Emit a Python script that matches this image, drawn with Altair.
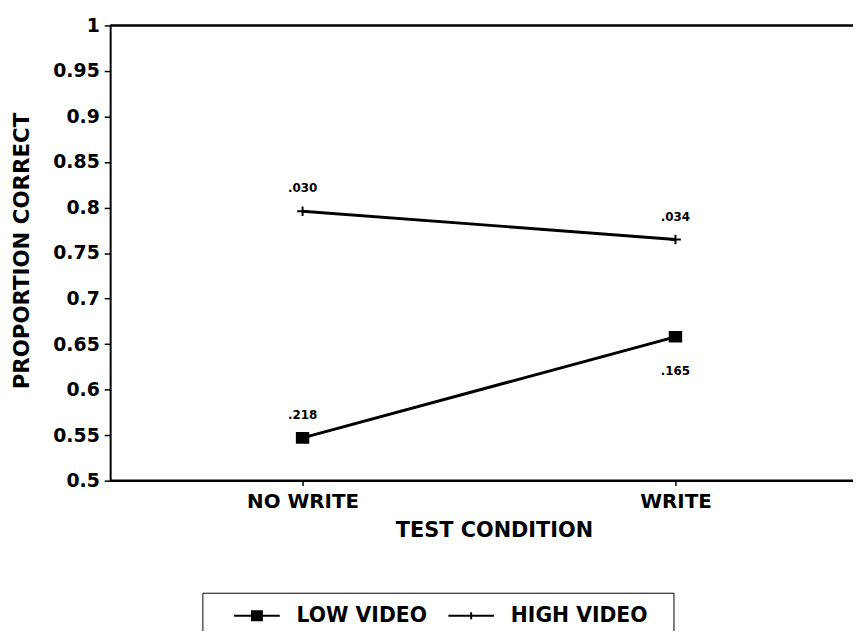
import altair as alt
import pandas as pd

# ---- data ----
conditions = ["NO WRITE", "WRITE"]
series_names = ["LOW VIDEO", "HIGH VIDEO"]
low_video = [0.547, 0.658]
high_video = [0.796, 0.765]
low_labels = [".218", ".165"]
high_labels = [".030", ".034"]
y_ticks = [0.5, 0.55, 0.6, 0.65, 0.7, 0.75, 0.8, 0.85, 0.9, 0.95, 1.0]

rows = []
for i, c in enumerate(conditions):
    rows.append({"condition": c, "series": "LOW VIDEO", "value": low_video[i], "label": low_labels[i]})
    rows.append({"condition": c, "series": "HIGH VIDEO", "value": high_video[i], "label": high_labels[i]})
df = pd.DataFrame(rows)
frame_df = pd.DataFrame({"value": [min(y_ticks), max(y_ticks)]})

FONT = "DejaVu Sans"

SQUARE = "M-1,-0.85H1V0.85H-1Z"
CROSS = "M-0.9,0H0.9M0,-0.8V0.8"
# legend symbols drawn with strokes only: a line with a solid square / a small vertical tick
LEG_LOW = ("M-2.3,0H2.3"
           "M-0.6,-0.45H0.6M-0.6,-0.3H0.6M-0.6,-0.15H0.6M-0.6,0.15H0.6M-0.6,0.3H0.6M-0.6,0.45H0.6")
LEG_HIGH = "M-2.3,0H2.3M0,-0.35V0.35"

x_enc = alt.X(
    "condition:N",
    sort=conditions,
    scale=alt.Scale(type="point", domain=conditions, range=[194, 570], padding=0),
    axis=alt.Axis(
        title="TEST CONDITION",
        labelAngle=0,
        labelFont=FONT, labelFontSize=20, labelFontWeight="bold", labelColor="black",
        labelPadding=6,
        domain=False,
        tickColor="black", tickWidth=1.5, tickSize=5,
        titleFont=FONT, titleFontSize=21, titleFontWeight="bold", titleColor="black",
        titleX=387, titleY=50, titleBaseline="middle",
        grid=False,
    ),
)
y_enc = alt.Y(
    "value:Q",
    scale=alt.Scale(domain=[min(y_ticks), max(y_ticks)], nice=False, zero=False),
    axis=alt.Axis(
        title="PROPORTION CORRECT",
        values=y_ticks, format="~g",
        labelFont=FONT, labelFontSize=19, labelFontWeight="bold", labelColor="black",
        labelPadding=5,
        domainColor="black", domainWidth=2,
        tickColor="black", tickWidth=1.5, tickSize=6,
        titleFont=FONT, titleFontSize=21.5, titleFontWeight="bold", titleColor="black",
        titleX=-88, titleY=227, titleBaseline="middle",
        grid=False,
    ),
)

base = alt.Chart(df)

# top frame line and bottom axis line, spanning the whole plot width
frame_rules = alt.Chart(frame_df).mark_rule(color="black", strokeWidth=2.5).encode(y=alt.Y("value:Q"))

lines = base.mark_line(color="black", strokeWidth=3).encode(x=x_enc, y=y_enc, detail="series:N")

# invisible layer that only carries the legend (line + marker symbols)
legend_layer = base.mark_point(filled=False, size=400, color="black", opacity=0).encode(
    x=x_enc,
    y=y_enc,
    shape=alt.Shape(
        "series:N",
        sort=series_names,
        scale=alt.Scale(domain=series_names, range=[LEG_LOW, LEG_HIGH]),
        legend=alt.Legend(
            title="\u00a0",
            titleOrient="right",
            titlePadding=14,
            titleFontSize=12,
            orient="none", legendX=93, legendY=572,
            direction="horizontal",
            padding=12,
            strokeColor="black",
            symbolSize=400,
            symbolOffset=32,
            symbolOpacity=1,
            symbolStrokeColor="black",
            symbolStrokeWidth=2,
            labelOffset=29,
            columnPadding=1,
            labelFont=FONT, labelFontSize=20.5, labelFontWeight="bold", labelColor="black",
        ),
    ),
)

low_points = base.transform_filter("datum.series == 'LOW VIDEO'").mark_point(
    shape=SQUARE, filled=True, size=144, color="black", stroke="black", strokeWidth=1.5, opacity=1
).encode(x=x_enc, y=y_enc)
high_points = base.transform_filter("datum.series == 'HIGH VIDEO'").mark_point(
    shape=CROSS, filled=False, size=144, color="black", strokeWidth=2, opacity=1
).encode(x=x_enc, y=y_enc)

labels_above = base.transform_filter(
    "!(datum.series == 'LOW VIDEO' && datum.condition == 'WRITE')"
).mark_text(dy=-23, font=FONT, fontSize=12, fontWeight="bold", color="black").encode(
    x=x_enc, y=y_enc, text="label:N"
)
labels_below = base.transform_filter(
    "datum.series == 'LOW VIDEO' && datum.condition == 'WRITE'"
).mark_text(dy=35, font=FONT, fontSize=12, fontWeight="bold", color="black").encode(
    x=x_enc, y=y_enc, text="label:N"
)

chart = alt.layer(frame_rules, lines, legend_layer, low_points, high_points, labels_above, labels_below).properties(
    width=749,
    height=459,
    autosize=alt.AutoSizeParams(type="none"),
    padding={"left": 103, "top": 15, "right": 0, "bottom": 149},
    background="white",
).configure_view(stroke=None)

chart.save("out.html", embed_options={"renderer": "svg", "actions": False})
